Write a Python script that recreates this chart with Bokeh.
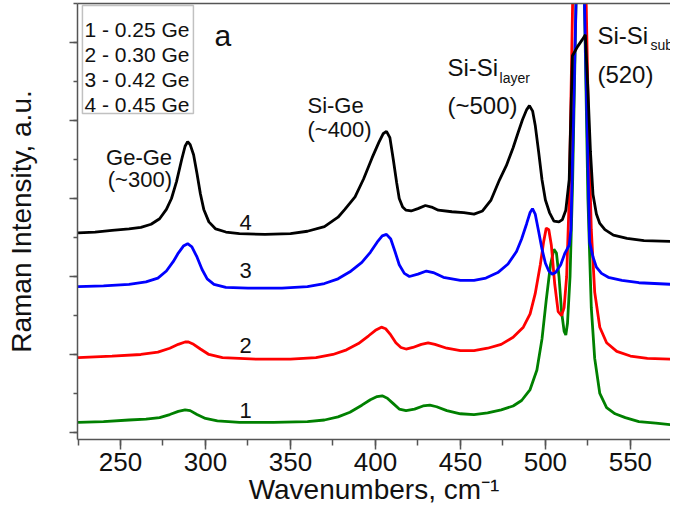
from bokeh.plotting import figure
from bokeh.models import (Range1d, SingleIntervalTicker, LinearAxis, FixedTicker, Label, BoxAnnotation,
                          CustomJSTickFormatter)
from bokeh.embed import file_html
from bokeh.resources import INLINE

# ---- data (wavenumber, cm-1 ; intensity, a.u. with vertical offsets) ----
x4 = [225, 235, 245, 255, 262, 268, 273, 277, 280, 283, 286, 288, 289.5, 291, 293, 295, 297, 299, 302, 306, 312,
      320, 335, 350, 360, 370, 378, 382, 388, 393, 398, 402, 404.5, 406.5, 408.5, 410.5, 412.5, 414, 416, 418, 421,
      425, 429.4, 433, 437, 445, 452, 458, 463, 468, 473, 477, 481, 484, 486.5, 489, 490.6, 492.5, 494, 496, 498,
      500, 502.4, 505, 508, 510, 512, 514, 515.9, 519, 521.8, 523.5, 525, 526.5, 528, 530, 532, 535, 540, 548, 558, 573.6]
y4 = [2.56, 2.57, 2.59, 2.61, 2.63, 2.67, 2.74, 2.86, 3.00, 3.22, 3.50, 3.67, 3.73, 3.69, 3.56, 3.32, 3.06, 2.86, 2.70, 2.61, 2.57,
      2.55, 2.54, 2.55, 2.58, 2.64, 2.76, 2.86, 3.02, 3.25, 3.52, 3.72, 3.83, 3.86, 3.78, 3.50, 3.20, 3.00, 2.89, 2.85, 2.84,
      2.87, 2.91, 2.89, 2.85, 2.83, 2.82, 2.80, 2.84, 2.98, 3.24, 3.42, 3.65, 3.85, 4.01, 4.14, 4.19, 4.12, 3.94, 3.60, 3.24,
      2.98, 2.82, 2.71, 2.70, 2.73, 2.85, 3.24, 4.83, 4.95, 5.04, 5.10, 4.40, 3.60, 3.05, 2.80, 2.68, 2.60, 2.53, 2.49, 2.46, 2.45]

x3 = [225, 240, 255, 265, 272, 277, 281, 284, 287, 289.5, 292, 295, 298, 301, 305, 312, 325, 345, 360, 370, 378, 385,
      392, 397, 401, 404, 406.5, 409, 411.5, 414, 417, 420, 425, 430, 434, 440, 450, 458, 465, 472, 478, 483, 486, 489,
      491, 492.4, 494, 496, 498, 500, 502, 504, 506, 509, 511.5, 514, 515, 518, 520.8, 523, 526, 528, 530, 533, 537,
      545, 555, 573.6]
y3 = [1.87, 1.88, 1.90, 1.93, 1.98, 2.07, 2.19, 2.30, 2.39, 2.42, 2.38, 2.25, 2.09, 1.97, 1.90, 1.86, 1.85, 1.85, 1.87, 1.91, 1.97, 2.06,
      2.18, 2.31, 2.44, 2.52, 2.54, 2.48, 2.32, 2.15, 2.04, 2.00, 2.03, 2.07, 2.05, 1.99, 1.95, 1.95, 1.98, 2.05, 2.16, 2.32, 2.48, 2.68,
      2.82, 2.87, 2.80, 2.58, 2.35, 2.17, 2.07, 2.03, 2.05, 2.15, 2.30, 2.40, 2.60, 5.50, 9.00, 5.50, 2.44, 2.25, 2.12, 2.04, 1.99,
      1.95, 1.92, 1.90]

x2 = [225, 245, 262, 272, 279, 284, 288, 290, 293, 297, 302, 310, 330, 350, 365, 375, 383, 390, 396, 400, 403.5, 406,
      409, 412, 415, 418, 422, 427, 431, 435, 442, 450, 458, 466, 474, 481, 487, 491, 494, 497, 499, 500.5, 502, 503.5,
      505.5, 507.5, 509.5, 511, 512.5, 514, 516, 520.5, 524, 525.5, 527, 529, 532, 536, 542, 550, 560, 573.6]
y2 = [0.96, 0.98, 1.00, 1.03, 1.08, 1.13, 1.16, 1.16, 1.13, 1.07, 1.00, 0.96, 0.94, 0.94, 0.96, 1.00, 1.06, 1.14, 1.24, 1.31, 1.35, 1.33,
      1.25, 1.15, 1.09, 1.07, 1.09, 1.13, 1.15, 1.13, 1.08, 1.05, 1.05, 1.08, 1.13, 1.22, 1.35, 1.52, 1.78, 2.15, 2.45, 2.62, 2.60, 2.40,
      1.90, 1.55, 1.50, 1.60, 2.00, 3.00, 5.50, 9.00, 5.50, 3.80, 2.60, 1.80, 1.35, 1.15, 1.04, 0.98, 0.95, 0.94]

x1 = [225, 240, 255, 265, 273, 279, 284, 288, 291, 295, 300, 307, 320, 340, 360, 370, 378, 385, 392, 397, 401, 404,
      407, 410.5, 414, 418, 423, 428, 432, 436, 442, 450, 458, 466, 474, 481, 486, 491, 495, 498, 500.5, 503, 505,
      506.5, 508, 509.5, 511, 512, 513, 514.5, 516, 518, 520.5, 523, 525, 527, 529, 532, 536, 541, 547, 555, 565, 573.6]
y1 = [0.13, 0.14, 0.16, 0.17, 0.19, 0.23, 0.27, 0.29, 0.28, 0.23, 0.18, 0.15, 0.13, 0.13, 0.14, 0.16, 0.20, 0.26, 0.35, 0.42, 0.46, 0.47,
      0.44, 0.37, 0.30, 0.28, 0.30, 0.34, 0.35, 0.33, 0.28, 0.24, 0.23, 0.25, 0.29, 0.34, 0.41, 0.55, 0.80, 1.20, 1.70, 2.15, 2.35,
      2.30, 2.00, 1.55, 1.30, 1.25, 1.40, 2.00, 3.20, 5.50, 9.00, 5.50, 3.00, 1.60, 0.95, 0.50, 0.32, 0.24, 0.19, 0.14, 0.12, 0.10]

series = [(x1, y1, "#008000"), (x2, y2, "#ff0000"), (x3, y3, "#0000ff"), (x4, y4, "#000000")]
legend_lines = ["1 - 0.25 Ge", "2 - 0.30 Ge", "3 - 0.42 Ge", "4 - 0.45 Ge"]
curve_numbers = ["1", "2", "3", "4"]

FONT = "Liberation Sans"
AX = "#555555"

p = figure(width=670, height=515, output_backend="svg", toolbar_location=None,
           x_range=Range1d(224.7, 573.6), y_range=Range1d(-0.09, 5.5),
           min_border_left=77, min_border_right=0, min_border_top=3, min_border_bottom=76)
p.outline_line_color = None
p.grid.visible = False
p.background_fill_color = "white"
p.border_fill_color = "white"

for xs, ys, c in series:
    p.line(xs, ys, line_color=c, line_width=2.8)

# x axis
xa = p.xaxis[0]
xa.ticker = SingleIntervalTicker(interval=50, num_minor_ticks=2)
xa.axis_line_color = AX
xa.axis_line_width = 1.5
xa.major_tick_line_color = AX
xa.minor_tick_line_color = AX
xa.major_tick_line_width = 1.5
xa.minor_tick_line_width = 1.5
xa.major_tick_out = 10
xa.major_tick_in = 0
xa.minor_tick_out = 6
xa.minor_tick_in = 0
xa.major_label_text_font = FONT
xa.major_label_text_font_size = "26px"
xa.major_label_text_color = "#111111"
xa.major_label_standoff = 3
xa.axis_label = "Wavenumbers, cm\u207b\u00b9"
xa.axis_label_text_font = FONT
xa.axis_label_text_font_size = "28px"
xa.axis_label_text_font_style = "normal"
xa.axis_label_text_color = "#111111"
xa.axis_label_standoff = 0

# y axis
ya = p.yaxis[0]
ya.ticker = SingleIntervalTicker(interval=1, num_minor_ticks=2)
ya.formatter = CustomJSTickFormatter(code="return '';")
ya.axis_line_color = AX
ya.axis_line_width = 1.5
ya.major_tick_line_color = AX
ya.minor_tick_line_color = AX
ya.major_tick_line_width = 1.5
ya.minor_tick_line_width = 1.5
ya.major_tick_out = 8
ya.major_tick_in = 0
ya.minor_tick_out = 4
ya.minor_tick_in = 0
ya.major_label_standoff = 0
ya.axis_label = "Raman Intensity, a.u."
ya.axis_label_text_font = FONT
ya.axis_label_text_font_size = "28px"
ya.axis_label_text_font_style = "normal"
ya.axis_label_text_color = "#111111"
ya.axis_label_standoff = 33

# top frame line
top = LinearAxis(ticker=FixedTicker(ticks=[]), formatter=CustomJSTickFormatter(code="return '';"),
                 major_label_standoff=0, axis_line_color=AX, axis_line_width=1.5,
                 major_tick_out=0, minor_tick_out=0)
p.add_layout(top, "above")

def lab(x, y, t, size, **kw):
    p.add_layout(Label(x=x, y=y, text=t, text_font=FONT, text_font_size=size,
                       text_color="#111111", text_baseline="alphabetic", **kw))

# legend box
p.add_layout(BoxAnnotation(left=227.6, right=292.9, top=5.474, bottom=4.09,
                           fill_color=None, line_color="#333333", line_width=1.5))
for i, t in enumerate(legend_lines):
    lab(228.8, 5.167 - 0.3205 * i, t, "21px")

lab(305.3, 5.09, "a", "30px")

# peak annotations
lab(241.5, 3.53, "Ge-Ge", "22px")
lab(242.5, 3.24, "(~300)", "22px")
lab(360.0, 4.19, "Si-Ge", "22px")
lab(360.0, 3.88, "(~400)", "22px")
lab(442.4, 4.68, "Si-Si", "24px")
lab(473.0, 4.55, "layer", "14px")
lab(442.4, 4.19, "(~500)", "24px")
lab(530.6, 5.09, "Si-Si", "24px")
lab(561.8, 4.97, "sub", "14px")
lab(530.6, 4.59, "(520)", "24px")

# curve numbers
for t, yy in zip(curve_numbers, [0.28, 1.12, 2.08, 2.69]):
    lab(320.0, yy, t, "22px")

open("out.html", "w").write(file_html(p, INLINE))
